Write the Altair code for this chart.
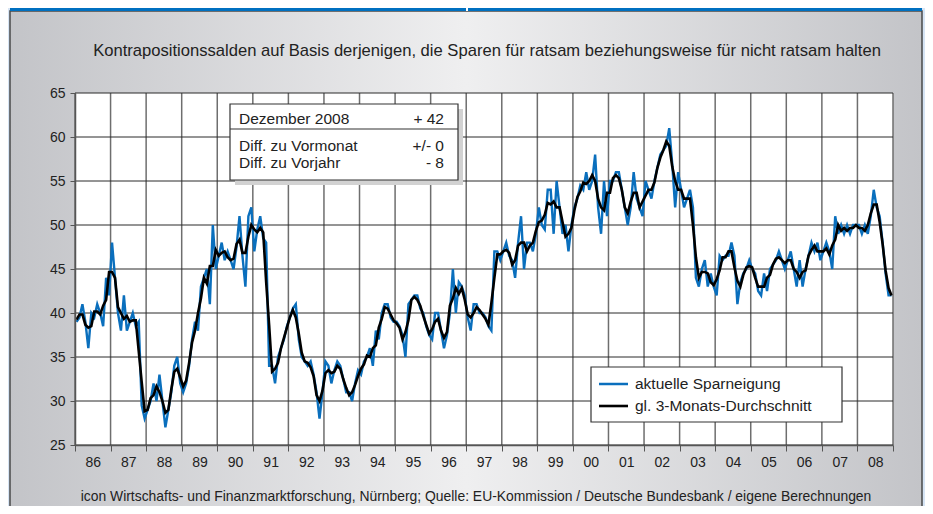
import altair as alt
import pandas as pd

# Monthly values of "aktuelle Sparneigung", Jan..Dec of each year
s1986 = [39, 39.5, 41, 39, 36, 40, 39.5, 41, 40, 38.5, 44, 42]
s1987 = [48, 44, 40, 38, 42, 38, 39, 40, 38.5, 39, 29.5, 28]
s1988 = [29, 30, 32, 30, 33, 30, 27, 29, 31, 34, 35, 32]
s1989 = [31, 32, 34, 37, 39, 38, 43, 44, 45, 41, 50, 45]
s1990 = [46.5, 48, 46, 47, 46, 45, 47.5, 51, 46.5, 43, 51, 52]
s1991 = [47, 49.5, 51, 48.5, 48, 34, 34, 32, 35, 36, 37, 38.5]
s1992 = [39.5, 40.5, 41, 37, 35, 34.5, 34, 34.5, 33, 31, 28, 31]
s1993 = [34.5, 34, 32, 33.5, 34.5, 34, 32.5, 31, 31, 30, 32, 33.5]
s1994 = [33, 34.5, 35, 36, 34, 38, 37, 40, 41, 41, 39.5, 39]
s1995 = [39, 38.5, 37.5, 35, 41, 41.5, 42, 42, 40.5, 40, 38.5, 37.5]
s1996 = [37, 40, 40, 38, 36, 37.5, 40, 45, 40, 43.5, 43, 42]
s1997 = [39.5, 38, 41, 41, 40, 40, 39.5, 38.5, 38, 47, 47, 46]
s1998 = [47, 48, 46.5, 46, 44, 48, 51, 45, 48, 48, 47, 49]
s1999 = [52, 50, 49.5, 54, 54, 49, 55, 52, 49, 50, 47, 50]
s2000 = [52, 53, 54.5, 54, 56, 54, 55, 58, 52, 49, 55, 51]
s2001 = [55, 55, 56, 56, 54, 52, 50, 52, 56, 53, 52, 51]
s2002 = [55, 54, 53, 55, 56.5, 58, 58.5, 59, 61, 57, 52, 56]
s2003 = [54, 52, 53, 54, 52, 44, 43, 45, 46, 43, 44.5, 43]
s2004 = [42, 46.5, 46, 46.5, 46.5, 48, 46.5, 41, 43.5, 44.5, 45, 46]
s2005 = [45, 44.5, 42.5, 42, 44.5, 42.5, 45, 45.5, 46, 47, 46, 45]
s2006 = [46, 47, 45, 43, 46, 43, 45, 46.5, 48, 47, 48, 46]
s2007 = [47, 48, 47, 45, 51, 49, 50, 49, 50, 49, 50, 50]
s2008 = [50, 49, 50, 49, 51, 54, 52, 51, 48, 44.5, 42, 42]

series_by_year = [s1986, s1987, s1988, s1989, s1990, s1991, s1992, s1993, s1994,
                  s1995, s1996, s1997, s1998, s1999, s2000, s2001, s2002, s2003,
                  s2004, s2005, s2006, s2007, s2008]
first_year = 1986

year_bounds = list(range(1986, 2010))
y_ticks = [25, 30, 35, 40, 45, 50, 55, 60, 65]

title_text = "Kontrapositionssalden auf Basis derjenigen, die Sparen für ratsam beziehungsweise für nicht ratsam halten"
footer_text = "icon Wirtschafts- und Finanzmarktforschung, Nürnberg; Quelle: EU-Kommission / Deutsche Bundesbank / eigene Berechnungen"
box_rows = [("Dezember 2008", "+ 42"), ("Diff. zu Vormonat", "+/- 0"), ("Diff. zu Vorjahr", "- 8")]
legend_labels = ["aktuelle Sparneigung", "gl. 3-Monats-Durchschnitt"]

rows = []
for k, vals in enumerate(series_by_year):
    for m, v in enumerate(vals):
        rows.append({"t": first_year + k + (m + 0.5) / 12.0, "v": v})
df = pd.DataFrame(rows)

W, H = 818, 352
FONT = "Liberation Sans"
BLUE = "#0a6fbd"
TXT = "#222222"

xscale = alt.Scale(domain=[1986, 2009], nice=False, zero=False)
yscale = alt.Scale(domain=[25, 65], nice=False, zero=False)

xaxis = alt.Axis(values=year_bounds, grid=False, zindex=1, title="",
                 labelExpr="datum.value == 2009 ? '' : substring(toString(datum.value), 2, 4)",
                 labelOffset=17.8, labelFlush=False, labelOverlap=False,
                 labelFont=FONT, labelFontSize=14, labelColor=TXT, labelPadding=4,
                 tickSize=6, tickColor="#555", tickWidth=1,
                 domainColor="#555", domainWidth=1.5)
yaxis = alt.Axis(values=y_ticks, grid=False, zindex=1, title="",
                 labelFont=FONT, labelFontSize=14, labelColor=TXT, labelPadding=5,
                 tickSize=5, tickColor="#555", tickWidth=1,
                 domainColor="#555", domainWidth=1.5)

one = pd.DataFrame({"k": [0]})

grad = alt.LinearGradient(
    gradient="linear",
    stops=[alt.GradientStop(color="#c3c4c8", offset=0),
           alt.GradientStop(color="#efeff0", offset=0.5),
           alt.GradientStop(color="#c3c4c8", offset=1)],
    x1=0, x2=1, y1=0, y2=0,
)

card = alt.Chart(one).mark_rect(fill=grad, stroke="#4a4a4a", strokeWidth=1.5).encode(
    x=alt.value(-65), x2=alt.value(847), y=alt.value(-82), y2=alt.value(430))
topbar = alt.Chart(one).mark_rect(fill="#0070c0").encode(
    x=alt.value(-65), x2=alt.value(847), y=alt.value(-86), y2=alt.value(-82))
topgap = alt.Chart(one).mark_rule(color="white", strokeWidth=2).encode(
    x=alt.value(392), y=alt.value(-86), y2=alt.value(-82))
plotbg = alt.Chart(one).mark_rect(fill="white").encode(
    x=alt.value(0), x2=alt.value(W), y=alt.value(0), y2=alt.value(H))

vgrid = alt.Chart(pd.DataFrame({"t": year_bounds})).mark_rule(color="#6e6e6e", strokeWidth=1.5).encode(
    x=alt.X("t:Q", scale=xscale, axis=xaxis, title=""))
hgrid = alt.Chart(pd.DataFrame({"v": y_ticks})).mark_rule(color="#2a2a2a", strokeWidth=1).encode(
    y=alt.Y("v:Q", scale=yscale, axis=yaxis, title=""))

blue = alt.Chart(df).mark_line(color=BLUE, strokeWidth=2.4).encode(
    x=alt.X("t:Q", scale=xscale, axis=xaxis, title=""),
    y=alt.Y("v:Q", scale=yscale, axis=yaxis, title=""))
black = alt.Chart(df).transform_window(
    ma="mean(v)", frame=[-1, 1], sort=[alt.SortField("t")]
).mark_line(color="black", strokeWidth=2.6).encode(
    x=alt.X("t:Q", scale=xscale, axis=xaxis, title=""),
    y=alt.Y("ma:Q", scale=yscale, axis=yaxis, title=""))

# info box
shadow = alt.Chart(one).mark_rect(fill="#d2d2d2").encode(
    x=alt.value(160), x2=alt.value(388), y=alt.value(16), y2=alt.value(92))
box = alt.Chart(one).mark_rect(fill="white", stroke="#333", strokeWidth=1.2).encode(
    x=alt.value(155), x2=alt.value(383), y=alt.value(11), y2=alt.value(87))
sep = alt.Chart(one).mark_rule(color="#333", strokeWidth=1.2).encode(
    x=alt.value(155), x2=alt.value(383), y=alt.value(36))
box_layers = []
for (lab, val), yb in zip(box_rows, [31, 58, 75]):
    box_layers.append(alt.Chart(one).mark_text(align="left", baseline="alphabetic", font=FONT,
                                               fontSize=15.5, color=TXT).encode(
        x=alt.value(164), y=alt.value(yb), text=alt.value(lab)))
    box_layers.append(alt.Chart(one).mark_text(align="right", baseline="alphabetic", font=FONT,
                                               fontSize=15.5, color=TXT).encode(
        x=alt.value(369), y=alt.value(yb), text=alt.value(val)))

# legend
lbox = alt.Chart(one).mark_rect(fill="white", stroke="#333", strokeWidth=1.2).encode(
    x=alt.value(516), x2=alt.value(767), y=alt.value(274), y2=alt.value(329))
lblue = alt.Chart(one).mark_rule(color=BLUE, strokeWidth=2.5).encode(
    x=alt.value(524), x2=alt.value(553), y=alt.value(291))
lblack = alt.Chart(one).mark_rule(color="black", strokeWidth=2.6).encode(
    x=alt.value(524), x2=alt.value(553), y=alt.value(313))
ltext1 = alt.Chart(one).mark_text(align="left", baseline="middle", font=FONT, fontSize=15.5, color=TXT).encode(
    x=alt.value(560), y=alt.value(291), text=alt.value(legend_labels[0]))
ltext2 = alt.Chart(one).mark_text(align="left", baseline="middle", font=FONT, fontSize=15.5, color=TXT).encode(
    x=alt.value(560), y=alt.value(313), text=alt.value(legend_labels[1]))

title = alt.Chart(one).mark_text(align="center", baseline="middle", font=FONT, fontSize=16.6, color=TXT).encode(
    x=alt.value(412), y=alt.value(-42), text=alt.value(title_text))
footer = alt.Chart(one).mark_text(align="center", baseline="middle", font=FONT, fontSize=13.9, color=TXT).encode(
    x=alt.value(401), y=alt.value(404), text=alt.value(footer_text))

chart = alt.layer(
    card, topbar, topgap, title, footer, plotbg, vgrid, hgrid, blue, black,
    shadow, box, sep, *box_layers, lbox, lblue, lblack, ltext1, ltext2
).properties(
    width=W, height=H,
    autosize=alt.AutoSizeParams(type="none"),
    padding={"left": 67, "top": 85, "right": 32, "bottom": 61},
    background="#d6e4f4",
).configure_view(stroke=None)

chart.save("out.html", embed_options={"renderer": "svg", "actions": False})
